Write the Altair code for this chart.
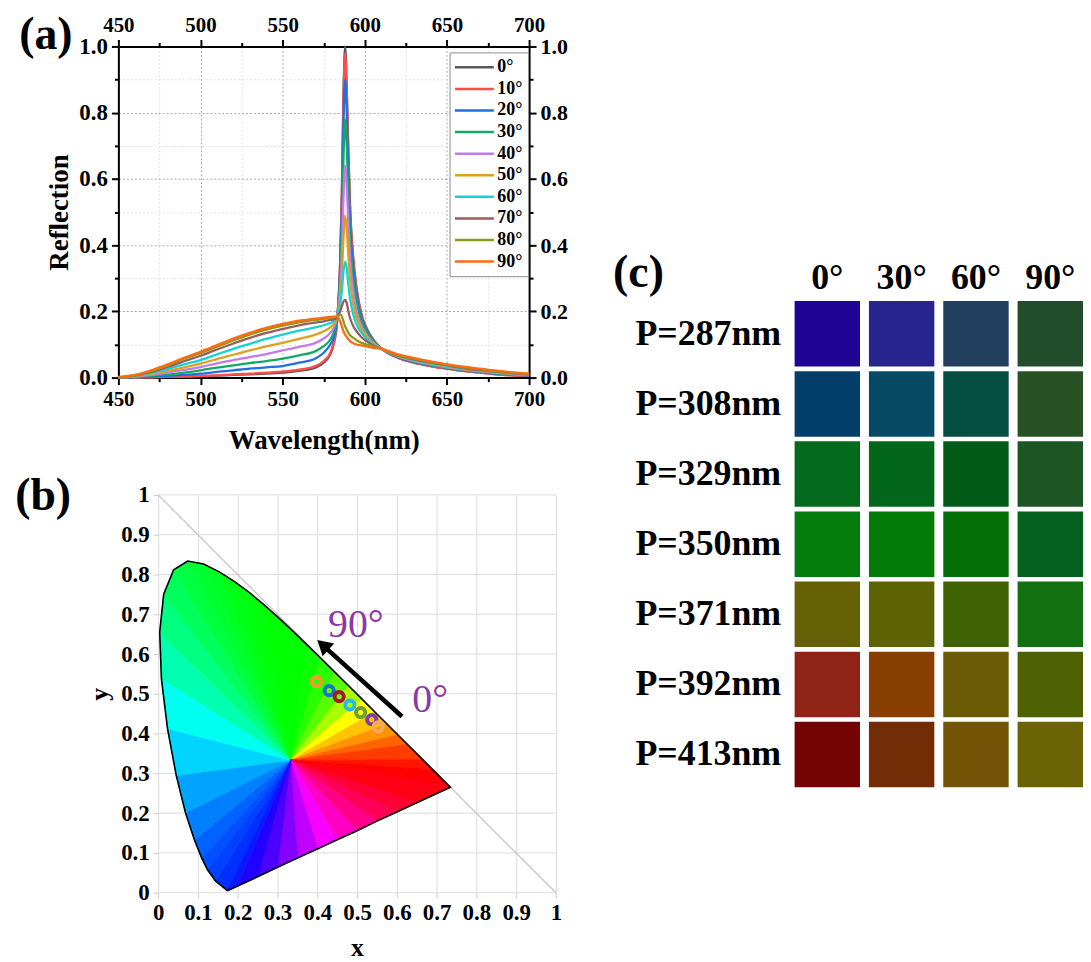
import altair as alt
import pandas as pd

SERIF = "Liberation Serif"

# ---------------- (a) reflection spectra ----------------
wavelengths = [450, 460, 470, 480, 490, 500, 510, 520, 530, 540, 550, 560, 570,
               575, 579, 581, 583, 585, 586, 587, 588, 589, 590, 591, 593, 595, 598, 601, 605, 610,
               620, 630, 640, 650, 660, 670, 680, 690, 700]
angles = ["0°", "10°", "20°", "30°", "40°", "50°", "60°", "70°", "80°", "90°"]
r0 = [0, 0, 0.001, 0.002, 0.003, 0.004, 0.006, 0.008, 0.01, 0.012, 0.015, 0.02, 0.03,
      0.045, 0.07, 0.1, 0.16, 0.35, 0.55, 0.85, 1.0, 0.88, 0.68, 0.52, 0.36, 0.27, 0.19, 0.15, 0.115, 0.088,
      0.06, 0.045, 0.035, 0.027, 0.02, 0.015, 0.01, 0.007, 0.005]
r10 = [0, 0, 0.001, 0.002, 0.003, 0.005, 0.007, 0.01, 0.012, 0.015, 0.018, 0.024, 0.035,
       0.05, 0.075, 0.105, 0.165, 0.35, 0.55, 0.84, 0.98, 0.86, 0.67, 0.51, 0.355, 0.265, 0.19, 0.15, 0.115, 0.088,
       0.06, 0.045, 0.035, 0.027, 0.02, 0.015, 0.01, 0.007, 0.005]
r20 = [0, 0.001, 0.003, 0.005, 0.008, 0.012, 0.017, 0.022, 0.027, 0.031, 0.035, 0.045, 0.058,
       0.075, 0.1, 0.12, 0.17, 0.33, 0.5, 0.77, 0.9, 0.8, 0.62, 0.47, 0.33, 0.25, 0.18, 0.145, 0.112, 0.088,
       0.062, 0.047, 0.037, 0.029, 0.022, 0.017, 0.012, 0.009, 0.006]
r30 = [0, 0.002, 0.005, 0.009, 0.015, 0.022, 0.03, 0.037, 0.044, 0.05, 0.057, 0.067, 0.08,
       0.095, 0.115, 0.135, 0.175, 0.3, 0.44, 0.66, 0.78, 0.7, 0.55, 0.42, 0.3, 0.23, 0.17, 0.14, 0.11, 0.088,
       0.063, 0.049, 0.038, 0.03, 0.023, 0.018, 0.013, 0.009, 0.007]
r40 = [0, 0.003, 0.008, 0.015, 0.023, 0.032, 0.043, 0.053, 0.062, 0.071, 0.082, 0.093, 0.105,
       0.118, 0.135, 0.15, 0.18, 0.27, 0.37, 0.54, 0.64, 0.58, 0.46, 0.36, 0.26, 0.2, 0.155, 0.13, 0.105, 0.088,
       0.064, 0.05, 0.04, 0.031, 0.024, 0.019, 0.014, 0.01, 0.007]
r50 = [0, 0.004, 0.011, 0.02, 0.031, 0.042, 0.056, 0.069, 0.082, 0.094, 0.105, 0.117, 0.13,
       0.14, 0.152, 0.162, 0.18, 0.24, 0.31, 0.42, 0.49, 0.45, 0.37, 0.3, 0.22, 0.18, 0.145, 0.125, 0.105, 0.088,
       0.065, 0.052, 0.042, 0.033, 0.026, 0.02, 0.015, 0.011, 0.008]
r60 = [0, 0.005, 0.014, 0.026, 0.04, 0.053, 0.07, 0.087, 0.102, 0.117, 0.13, 0.142, 0.152,
       0.158, 0.165, 0.17, 0.18, 0.22, 0.26, 0.32, 0.35, 0.33, 0.28, 0.24, 0.19, 0.16, 0.135, 0.118, 0.1, 0.087,
       0.066, 0.053, 0.043, 0.035, 0.028, 0.022, 0.017, 0.012, 0.009]
r70 = [0, 0.006, 0.017, 0.032, 0.05, 0.066, 0.085, 0.103, 0.12, 0.135, 0.147, 0.158, 0.166,
       0.17, 0.174, 0.176, 0.18, 0.2, 0.215, 0.23, 0.235, 0.225, 0.2, 0.18, 0.155, 0.14, 0.122, 0.11, 0.097, 0.087,
       0.067, 0.055, 0.045, 0.037, 0.029, 0.023, 0.018, 0.013, 0.01]
r80 = [0, 0.007, 0.02, 0.037, 0.057, 0.074, 0.093, 0.112, 0.13, 0.145, 0.157, 0.167, 0.174,
       0.177, 0.18, 0.182, 0.185, 0.19, 0.185, 0.17, 0.155, 0.145, 0.135, 0.128, 0.12, 0.113, 0.105, 0.1, 0.094, 0.087,
       0.068, 0.057, 0.047, 0.039, 0.031, 0.025, 0.019, 0.014, 0.011]
r90 = [0.002, 0.008, 0.022, 0.04, 0.06, 0.078, 0.098, 0.118, 0.135, 0.15, 0.162, 0.172, 0.178,
       0.181, 0.183, 0.184, 0.185, 0.17, 0.155, 0.14, 0.13, 0.122, 0.116, 0.11, 0.104, 0.1, 0.097, 0.094, 0.09, 0.087,
       0.07, 0.059, 0.049, 0.04, 0.033, 0.027, 0.021, 0.016, 0.012]
series = [r0, r10, r20, r30, r40, r50, r60, r70, r80, r90]
line_colors = ["#5a5a5a", "#ff4d4d", "#1e6fe0", "#13a865", "#c47ae8",
               "#dba11c", "#14d2d8", "#9b5c5c", "#8f991a", "#ff6a12"]

# ---------------- (b) chromaticity diagram ----------------
locus_x = [0.1741, 0.1440, 0.1241, 0.1096, 0.0913, 0.0687, 0.0454, 0.0235, 0.0082, 0.0039,
           0.0139, 0.0389, 0.0743, 0.1142, 0.1547, 0.1929, 0.2296, 0.2658, 0.3016, 0.3373,
           0.3731, 0.4087, 0.4441, 0.4788, 0.5125, 0.5448, 0.5752, 0.6029, 0.6270, 0.6658,
           0.6915, 0.7079, 0.7190, 0.7347]
locus_y = [0.0050, 0.0297, 0.0578, 0.0868, 0.1327, 0.2007, 0.2950, 0.4127, 0.5384, 0.6548,
           0.7502, 0.8120, 0.8338, 0.8262, 0.8059, 0.7816, 0.7543, 0.7243, 0.6923, 0.6589,
           0.6245, 0.5896, 0.5547, 0.5202, 0.4866, 0.4544, 0.4242, 0.3965, 0.3725, 0.3340,
           0.3083, 0.2920, 0.2809, 0.2653]
locus_colors = ["#0030ff", "#0040ff", "#0050ff", "#0062ff", "#0080ff", "#00a4ff", "#00d4ff", "#00fff0",
                "#00ffb0", "#00ff80", "#00ff5c", "#00ff40", "#00ff30", "#00ff24", "#00ff18", "#00ff10",
                "#00ff08", "#00ff00", "#00ff00", "#00ff00", "#0aff00", "#28ff00", "#58ff00", "#a8ff00",
                "#ffff00", "#ffc400", "#ff9400", "#ff6400", "#ff3c00", "#ff1400", "#ff0000", "#ff0004",
                "#ff000a", "#ff0014"]
purple_x = [0.65, 0.60, 0.55, 0.50, 0.45, 0.40, 0.35, 0.30, 0.25, 0.20]
purple_y = [0.226, 0.203, 0.180, 0.156, 0.133, 0.110, 0.087, 0.064, 0.040, 0.017]
purple_colors = ["#ff0034", "#ff0058", "#ff0088", "#ff00c4", "#f800ff",
                 "#c000ff", "#8400ff", "#4c00ff", "#2000ff", "#0818ff"]
white_point = (0.3333, 0.3333)

ring_x = [0.398, 0.430, 0.455, 0.482, 0.509, 0.537, 0.553]
ring_y = [0.531, 0.508, 0.493, 0.472, 0.453, 0.435, 0.417]
ring_colors = ["#f29a2e", "#1a73c9", "#a3172f", "#2cb8ee", "#6c9e3a", "#7e3f9c", "#f7a760"]

arrow_x = [0.613, 0.422]
arrow_y = [0.443, 0.615]
arrow_head = (0.414, 0.623)
note_text = ["90°", "0°"]
note_x = [0.497, 0.684]
note_y = [0.672, 0.485]
cie_ticks = [0, 0.1, 0.2, 0.3, 0.4, 0.5, 0.6, 0.7, 0.8, 0.9, 1]

# ---------------- (c) colour swatches ----------------
periods = ["P=287nm", "P=308nm", "P=329nm", "P=350nm", "P=371nm", "P=392nm", "P=413nm"]
angles_c = ["0°", "30°", "60°", "90°"]
swatch_colors = [
    ["#1f0596", "#28248e", "#233f5e", "#234d2a"],
    ["#043f6c", "#064a66", "#044d41", "#295126"],
    ["#03691c", "#02661b", "#025c18", "#1b5624"],
    ["#047b0d", "#037b06", "#036d06", "#05611f"],
    ["#655f05", "#5d6202", "#3f6302", "#137010"],
    ["#8e2316", "#8a3f02", "#6b5b06", "#4f6203"],
    ["#750303", "#722d06", "#745508", "#6c6306"],
]

# ============ build panel (a) ============
rows = []
for ang, vals in zip(angles, series):
    for w, v in zip(wavelengths, vals):
        rows.append({"wl": w, "R": v, "angle": ang})
df_a = pd.DataFrame(rows)

xs_a = alt.Scale(domain=[450, 700], nice=False, zero=False)
ys_a = alt.Scale(domain=[0, 1], nice=False)
x_ticks_a = list(range(450, 701, 25))
y_ticks_a = [0, 0.1, 0.2, 0.3, 0.4, 0.5, 0.6, 0.7, 0.8, 0.9, 1.0]
x_major = "datum.value % 50 === 0"
y_major = "abs(datum.value * 5 - round(datum.value * 5)) < 0.001"


def a_axis(orient, values, major, label_expr, font_size, title=None, title_pad=6):
    kw = dict(
        orient=orient, values=values, labelExpr=label_expr,
        labelFont=SERIF, labelFontSize=font_size, labelFontWeight="bold", labelColor="black",
        labelFlush=False, labelOverlap=False, labelPadding=4,
        domainColor="black", domainWidth=2, tickColor="black", tickWidth=2,
        tickSize={"condition": {"test": major, "value": 7}, "value": 4},
    )
    if title is not None:
        kw.update(title=title, titleFont=SERIF, titleFontSize=27, titleFontWeight="bold",
                  titleColor="black", titlePadding=title_pad,
                  grid=True, gridDash=[2, 2],
                  gridColor={"condition": {"test": major, "value": "#a8a8a8"}, "value": "#e2e2e2"})
    else:
        kw.update(title=None, grid=False)
    return alt.Axis(**kw)


x_lab = "datum.value % 50 === 0 ? datum.label : ''"
y_lab = "abs(datum.value * 5 - round(datum.value * 5)) < 0.001 ? format(datum.value, '.1f') : ''"

lines_a = alt.Chart(df_a).mark_line(strokeWidth=2.3, interpolate="monotone").encode(
    x=alt.X("wl:Q", scale=xs_a, axis=a_axis("bottom", x_ticks_a, x_major, x_lab, 21, "Wavelength(nm)", 18)),
    y=alt.Y("R:Q", scale=ys_a, axis=a_axis("left", y_ticks_a, y_major, y_lab, 23, "Reflection", 5)),
    color=alt.Color("angle:N", sort=angles,
                    scale=alt.Scale(domain=angles, range=line_colors),
                    legend=alt.Legend(title=None, orient="none", legendX=333, legendY=6,
                                      symbolType="M-2.3,0H2.3", symbolSize=289, symbolStrokeWidth=2.5,
                                      symbolOffset=10, labelOffset=13, rowPadding=2.7,
                                      labelFont=SERIF, labelFontSize=18, labelFontWeight="bold",
                                      labelColor="black", padding=5,
                                      strokeColor="#8c8c8c", fillColor="white")),
)
frame_a = alt.Chart(df_a).mark_point(opacity=0, size=1).encode(
    x=alt.X("wl:Q", scale=xs_a, axis=a_axis("top", x_ticks_a, x_major, x_lab, 21)),
    y=alt.Y("R:Q", scale=ys_a, axis=a_axis("right", y_ticks_a, y_major, y_lab, 22)),
)
panel_a = alt.layer(lines_a, frame_a).resolve_scale(x="independent", y="independent").properties(
    width=413, height=333,
    title=alt.TitleParams("(a)", anchor="start", frame="bounds", font=SERIF, fontSize=46,
                          fontWeight="bold", color="black", dx=-27, offset=-45),
)

# ============ build panel (b) ============
bx = locus_x + purple_x
by = locus_y + purple_y
bc = locus_colors + purple_colors
wx, wy = white_point
tri_rows = []
n = len(bx)
for i in range(n):
    j = (i + 1) % n
    pts = sorted([(wx, wy), (bx[i], by[i]), (bx[j], by[j])])
    (xa, ya), (xb, yb), (xc, yc) = pts
    ym = ya + (yc - ya) * (xb - xa) / (xc - xa) if xc - xa > 1e-9 else ya
    tri_rows.append({"t": i, "x": xa, "y": ya, "y2": ya, "c": bc[i]})
    tri_rows.append({"t": i, "x": xb, "y": min(yb, ym), "y2": max(yb, ym), "c": bc[i]})
    tri_rows.append({"t": i, "x": xc, "y": yc, "y2": yc, "c": bc[i]})
df_tri = pd.DataFrame(tri_rows)
df_outline = pd.DataFrame({"x": bx + [bx[0]], "y": by + [by[0]], "o": list(range(n + 1))})
df_diag = pd.DataFrame({"x": [0, 1], "y": [1, 0]})
df_hgrid = pd.DataFrame({"x": [0] * len(cie_ticks), "x2": [1] * len(cie_ticks), "y": cie_ticks})
df_ring = pd.DataFrame({"x": ring_x, "y": ring_y, "c": ring_colors})
df_arrow = pd.DataFrame({"x": [arrow_x[0]], "y": [arrow_y[0]], "x2": [arrow_x[1]], "y2": [arrow_y[1]]})
df_head = pd.DataFrame({"x": [arrow_head[0]], "y": [arrow_head[1]]})
df_note = pd.DataFrame({"x": note_x, "y": note_y, "t": note_text})

# x scale starts a little left of 0 so that panel (b) sits further right than panel (a)
xs_b = alt.Scale(domain=[-0.1, 1], nice=False, zero=False)
ys_b = alt.Scale(domain=[0, 1], nice=False)
ax_b = alt.Axis(values=cie_ticks, format="~g", title="x", grid=True, gridColor="#dcdcdc",
                domain=False, tickColor="#cccccc", tickSize=5, labelFlush=False,
                labelFont=SERIF, labelFontSize=23, labelFontWeight="bold", labelColor="black",
                labelPadding=4, labelOverlap=False,
                titleFont=SERIF, titleFontSize=26, titleFontWeight="bold", titleColor="black",
                titlePadding=10, titleX=240)
ay_b = alt.Axis(values=cie_ticks, format="~g", title="y", grid=False, offset=-40,
                domain=False, tickColor="#cccccc", tickSize=5, labelFlush=False,
                labelFont=SERIF, labelFontSize=23, labelFontWeight="bold", labelColor="black",
                labelPadding=4, labelOverlap=False,
                titleFont=SERIF, titleFontSize=26, titleFontWeight="bold", titleColor="black",
                titlePadding=8)


def X(f="x"):
    return alt.X(f"{f}:Q", scale=xs_b, axis=ax_b)


def Y(f="y"):
    return alt.Y(f"{f}:Q", scale=ys_b, axis=ay_b, stack=None)


hgrid = alt.Chart(df_hgrid).mark_rule(color="#dcdcdc", strokeWidth=1).encode(x=X(), x2="x2:Q", y=Y())
diag = alt.Chart(df_diag).mark_line(color="#c4c4c4", strokeWidth=1.2).encode(x=X(), y=Y())
wedges = alt.Chart(df_tri).mark_area(strokeWidth=0.8).encode(
    x=X(), y=Y(), y2="y2:Q",
    color=alt.Color("c:N", scale=None), stroke=alt.Stroke("c:N", scale=None), detail="t:N")
outline = alt.Chart(df_outline).mark_line(color="black", strokeWidth=1.6).encode(
    x=X(), y=Y(), order="o:Q")
rings = alt.Chart(df_ring).mark_point(filled=False, size=85, strokeWidth=4, opacity=1).encode(
    x=X(), y=Y(), color=alt.Color("c:N", scale=None))
shaft = alt.Chart(df_arrow).mark_rule(color="black", strokeWidth=4.5).encode(
    x=X(), y=Y(), x2="x2:Q", y2="y2:Q")
head = alt.Chart(df_head).mark_point(shape="triangle-up", filled=True, color="black",
                                     size=300, angle=312, opacity=1).encode(x=X(), y=Y())
notes = alt.Chart(df_note).mark_text(font=SERIF, fontSize=40, color="#8a3aa6",
                                     align="center", baseline="middle").encode(x=X(), y=Y(), text="t:N")
panel_b = alt.layer(hgrid, diag, wedges, outline, rings, shaft, head, notes).properties(
    width=440, height=400,
    title=alt.TitleParams("(b)", anchor="start", frame="bounds", font=SERIF, fontSize=46,
                          fontWeight="bold", color="black", dx=-72, offset=-36),
)

# ============ build panel (c) ============
crow = []
for p, cols in zip(periods, swatch_colors):
    for a, col in zip(angles_c, cols):
        crow.append({"P": p, "A": a, "col": col})
df_c = pd.DataFrame(crow)
panel_c = alt.Chart(df_c).mark_rect().encode(
    x=alt.X("A:N", sort=angles_c, scale=alt.Scale(paddingInner=0.12, paddingOuter=0),
            axis=alt.Axis(orient="top", title=None, labelAngle=0, domain=False, ticks=False,
                          labelFont=SERIF, labelFontSize=36, labelFontWeight="bold",
                          labelColor="black", labelPadding=5)),
    y=alt.Y("P:N", sort=periods, scale=alt.Scale(paddingInner=0.065, paddingOuter=0),
            axis=alt.Axis(title=None, domain=False, ticks=False,
                          labelFont=SERIF, labelFontSize=36, labelFontWeight="bold",
                          labelColor="black", labelPadding=14)),
    color=alt.Color("col:N", scale=None),
).properties(
    width=290, height=489,
    title=alt.TitleParams("(c)", anchor="start", frame="bounds", font=SERIF, fontSize=46,
                          fontWeight="bold", color="black", dx=-22, offset=-38),
)
spacer = alt.Chart(pd.DataFrame({"s": [0]})).mark_point(opacity=0).encode(
    x=alt.value(0), y=alt.value(0)).properties(width=5, height=205)

chart = alt.hconcat(
    alt.vconcat(panel_a, panel_b, spacing=20),
    alt.vconcat(spacer, panel_c, spacing=0),
    spacing=45,
).properties(padding={"left": 7, "top": 2, "right": 0, "bottom": 0}).configure_view(stroke=None)

chart.save("out.html", embed_options={"renderer": "svg", "actions": False})
